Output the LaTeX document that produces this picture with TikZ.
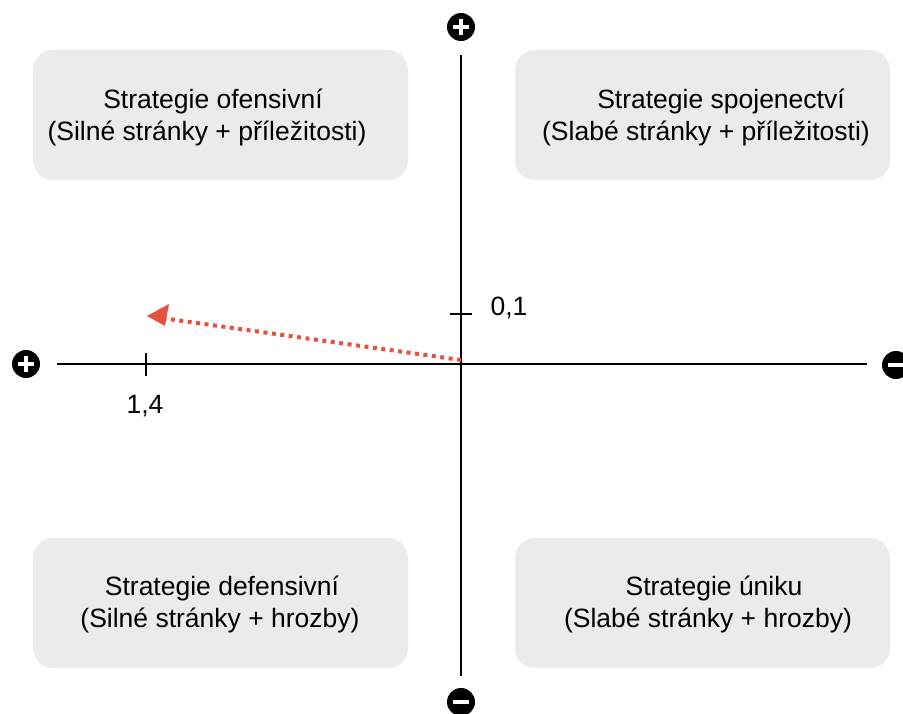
\documentclass[tikz,border=0pt]{standalone}
\usepackage{fontspec}
\setmainfont{Liberation Sans}
\usetikzlibrary{arrows.meta}
\definecolor{boxgray}{HTML}{EBEBEB}
\definecolor{arrred}{HTML}{E8503E}
\tikzset{
  quad/.style={fill=boxgray, rounded corners=20pt},
  lbl/.style={font=\fontsize{26.5}{30}\selectfont, inner sep=0pt},
  axis/.style={line width=1.3pt, black},
  sign/.style={circle, fill=black, minimum size=28pt, inner sep=0pt},
  bar/.style={white, line width=3.8pt},
}
\begin{document}
\begin{tikzpicture}[x=1pt,y=-1pt]
\useasboundingbox (0,0) rectangle (903,714);
% boxes
\fill[quad] (33,50) rectangle (408,180);
\fill[quad] (515,50) rectangle (890,180);
\fill[quad] (33,538) rectangle (408,668);
\fill[quad] (515,538) rectangle (890,668);
\node[lbl] (tl1) at (213,101) {Strategie ofensivní};
\node[lbl] (tl2) at (207,133) {(Silné stránky + příležitosti)};
\node[lbl] (tr1) at (721,101) {Strategie spojenectví};
\node[lbl] (tr2) at (706,133) {(Slabé stránky + příležitosti)};
\node[lbl] (bl1) at (222,588) {Strategie defensivní};
\node[lbl] (bl2) at (220,620) {(Silné stránky + hrozby)};
\node[lbl] (br1) at (714,588) {Strategie úniku};
\node[lbl] (br2) at (708,620) {(Slabé stránky + hrozby)};
% axes
\coordinate (vtop) at (461,55);
\coordinate (vbot) at (461,676);
\coordinate (hl) at (57,364);
\coordinate (hr) at (867,364);
\draw[axis] (vtop) -- (vbot);
\draw[axis] (hl) -- (hr);
% ticks
\coordinate (tx1) at (146,353); \coordinate (tx2) at (146,376);
\coordinate (ty1) at (450,314); \coordinate (ty2) at (472,314);
\draw[axis] (tx1) -- (tx2);
\draw[axis] (ty1) -- (ty2);
\node[lbl] (l14) at (145,406) {1,4};
\node[lbl] (l01) at (509,308) {0,1};
% signs
\node[sign] (ptop) at (461,27) {};
\draw[bar] ([xshift=-8pt]ptop.center) -- ([xshift=8pt]ptop.center);
\draw[bar] ([yshift=-8pt]ptop.center) -- ([yshift=8pt]ptop.center);
\node[sign] (pleft) at (26,364) {};
\draw[bar] ([xshift=-8pt]pleft.center) -- ([xshift=8pt]pleft.center);
\draw[bar] ([yshift=-8pt]pleft.center) -- ([yshift=8pt]pleft.center);
\node[sign] (mright) at (896,365) {};
\draw[bar] ([xshift=-8pt]mright.center) -- ([xshift=8pt]mright.center);
\node[sign] (mbot) at (461,702) {};
\draw[bar] ([xshift=-8pt]mbot.center) -- ([xshift=8pt]mbot.center);
% arrow
\coordinate (o) at (461,360);
\coordinate (tip) at (147,316);
\draw[arrred, line width=4pt, dash pattern=on 4pt off 4.5pt, shorten >=10pt] (o) -- (tip);
\fill[arrred] (tip) -- (169,304) -- (165,326) -- cycle;
\end{tikzpicture}
\end{document}
